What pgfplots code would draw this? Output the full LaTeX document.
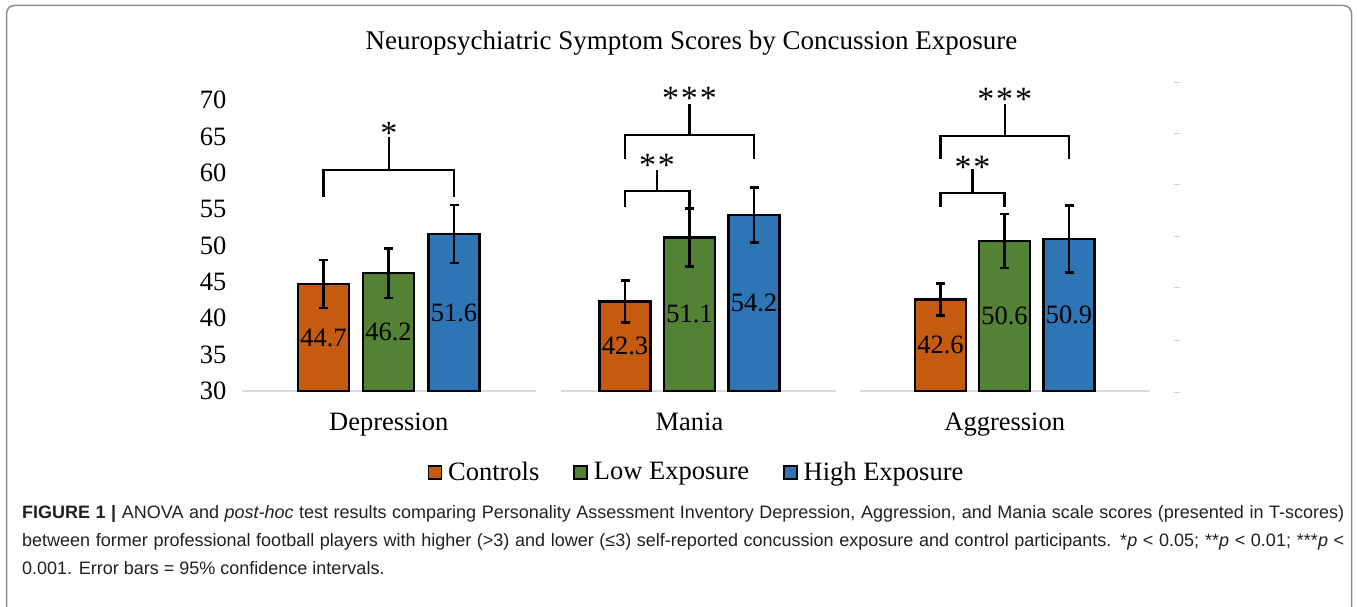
\documentclass[border=0pt]{standalone}
\usepackage{fontspec}
\setmainfont{Liberation Serif}
\newfontfamily\capfont{Liberation Sans}
\usepackage{pgfplots}
\pgfplotsset{compat=1.18}
\usepackage{pgfplotstable}

\definecolor{ctrl}{HTML}{C55A11}
\definecolor{lowc}{HTML}{548235}
\definecolor{highc}{HTML}{2E75B6}
\definecolor{basec}{HTML}{D9D9D9}
\definecolor{framec}{HTML}{8C8C8C}
\definecolor{capc}{HTML}{231F20}

\pgfplotstableread{
x val err
323.5 44.7 3.3
625 42.3 2.9
940.5 42.6 2.2
}\ctrltab
\pgfplotstableread{
x val err
388.5 46.2 3.4
689.5 51.1 4.0
1004.5 50.6 3.7
}\lowtab
\pgfplotstableread{
x val err
454 51.6 4.0
754 54.2 3.8
1069 50.9 4.6
}\hightab

\newcommand\bigf{\fontsize{26.5}{30}\selectfont}
\newcommand\starf{\fontsize{34}{36}\selectfont}
\newcommand\capf{\capfont\fontsize{18}{28}\selectfont}

\pgfplotsset{
  errstyle/.style={error bars/.cd, y dir=both, y explicit, error mark=-,
     error bar style={black, line width=2.4pt},
     error mark options={black, line width=2.4pt, mark size=4.5pt, rotate=90}},
  barstyle/.style={ybar, bar shift=0pt, bar width=51, draw=black, line width=2.4pt, fill=#1,
     legend image code/.code={\draw[fill=#1, draw=black, line width=1.5pt] (0pt,-7pt) rectangle (13pt,6pt);}},
  labstyle/.style={forget plot, draw=none, point meta=explicit,
     nodes near coords={\pgfmathprintnumber[fixed,precision=1,fixed zerofill]{\pgfplotspointmeta}},
     every node near coord/.append style={anchor=center, font=\bigf, text=black, inner sep=0pt}},
  brk/.style={forget plot, black, line width=2.4pt},
}

\begin{document}
\begin{tikzpicture}[x=1pt,y=1pt]
\path[use as bounding box] (0,0) rectangle (1357,606);
\draw[framec, line width=1.5pt, rounded corners=8pt] (6.5,-20) -- (6.5,600.5) -- (1351.5,600.5) -- (1351.5,-20);
\node[anchor=base, font=\fontsize{27}{30}\selectfont, inner sep=0pt] at (691.5,556) {Neuropsychiatric Symptom Scores by Concussion Exposure};
\begin{axis}[
  at={(230pt,215pt)}, anchor=south west,
  scale only axis, width=960pt, height=291pt,
  xmin=230, xmax=1190, ymin=30, ymax=70,
  clip=false,
  axis line style={draw=none},
  tick style={draw=none},
  major tick length=0pt,
  ytick={30,35,...,70},
  xtick={388.75,689.5,1004.75},
  xticklabels={Depression,Mania,Aggression},
  ticklabel style={font=\bigf},
  xticklabel style={anchor=base, yshift=-39pt},
  /pgf/number format/assume math mode=true,
  legend columns=3,
  legend style={at={(0.4849,-0.2779)}, anchor=center, draw=none, fill=none,
     font=\bigf, nodes={inner sep=0pt},
     /tikz/every odd column/.append style={column sep=6pt},
     /tikz/every even column/.append style={column sep=34pt}},
]
% baseline segments
\addplot[forget plot, basec, line width=2pt] coordinates {(242,30) (536,30)};
\addplot[forget plot, basec, line width=2pt] coordinates {(561,30) (836,30)};
\addplot[forget plot, basec, line width=2pt] coordinates {(860,30) (1150,30)};
% faint secondary ticks
\addplot[forget plot, only marks, mark=-, mark size=3pt, black!18, line width=1pt]
  coordinates {(1177,72.47) (1177,65.46) (1177,58.32) (1177,51.17) (1177,44.16) (1177,37.01) (1177,29.86)};

\addplot[barstyle=ctrl, errstyle] table[x=x, y=val, y error=err] {\ctrltab};
\addlegendentry{Controls}
\addplot[barstyle=lowc, errstyle] table[x=x, y=val, y error=err] {\lowtab};
\addlegendentry{Low Exposure}
\addplot[barstyle=highc, errstyle] table[x=x, y=val, y error=err] {\hightab};
\addlegendentry{High Exposure}

\addplot[labstyle] table[x=x, y expr={(\thisrow{val}+30)/2}, meta=val] {\ctrltab};
\addplot[labstyle] table[x=x, y expr={(\thisrow{val}+30)/2}, meta=val] {\lowtab};
\addplot[labstyle] table[x=x, y expr={(\thisrow{val}+30)/2}, meta=val] {\hightab};

% Depression bracket
\addplot[brk] coordinates {(323.5,56.67) (323.5,60.38) (454,60.38) (454,56.67)};
\addplot[brk] coordinates {(388.75,60.38) (388.75,64.91)};
% Mania brackets
\addplot[brk] coordinates {(625,61.89) (625,65.19) (754,65.19) (754,61.89)};
\addplot[brk] coordinates {(689.5,65.19) (689.5,69.45)};
\addplot[brk] coordinates {(625,55.29) (625,57.49) (689.5,57.49) (689.5,55.29)};
\addplot[brk] coordinates {(657,57.49) (657,60.38)};
% Aggression brackets
\addplot[brk] coordinates {(940.5,61.89) (940.5,65.05) (1069,65.05) (1069,61.89)};
\addplot[brk] coordinates {(1004.75,65.05) (1004.75,69.45)};
\addplot[brk] coordinates {(940.5,55.29) (940.5,57.22) (1004.5,57.22) (1004.5,55.29)};
\addplot[brk] coordinates {(972.5,57.22) (972.5,60.52)};

\node[anchor=base, font=\starf, inner sep=0pt] at (axis cs:388.75,63.86) {*};
\node[anchor=base, font=\starf, inner sep=0pt] at (axis cs:689.5,68.67) {*\hspace{2pt}*\hspace{2pt}*};
\node[anchor=base, font=\starf, inner sep=0pt] at (axis cs:657,59.46) {*\hspace{2pt}*};
\node[anchor=base, font=\starf, inner sep=0pt] at (axis cs:1004.75,68.53) {*\hspace{2pt}*\hspace{2pt}*};
\node[anchor=base, font=\starf, inner sep=0pt] at (axis cs:972.5,59.18) {*\hspace{2pt}*};
\end{axis}

\node[anchor=base west, inner sep=0pt, font=\capf, text=capc] at (22,87.5)
  {\makebox[1322pt][s]{\textbf{FIGURE 1 |} ANOVA and \textit{post-hoc} test results comparing Personality Assessment Inventory Depression, Aggression, and Mania scale scores (presented in T-scores)}};
\node[anchor=base west, inner sep=0pt, font=\capf, text=capc] at (22,59.5)
  {\makebox[1322pt][s]{between former professional football players with higher (>3) and lower (≤3) self-reported concussion exposure and control participants. *\textit{p} < 0.05; **\textit{p} < 0.01; ***\textit{p} <}};
\node[anchor=base west, inner sep=0pt, font=\capf, text=capc] at (22,31.5)
  {0.001. Error bars = 95\% confidence intervals.};
\end{tikzpicture}
\end{document}
